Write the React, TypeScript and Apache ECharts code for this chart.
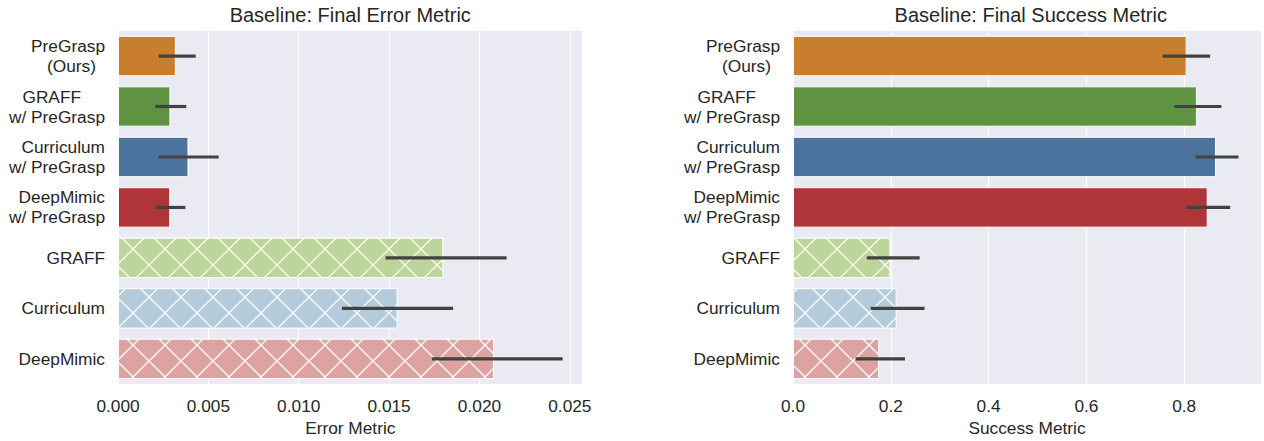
import React, { useEffect, useRef } from "react";
import * as echarts from "echarts";

// ---------- data ----------
const categories = [
  "PreGrasp\n(Ours)",
  "GRAFF\nw/ PreGrasp",
  "Curriculum\nw/ PreGrasp",
  "DeepMimic\nw/ PreGrasp",
  "GRAFF",
  "Curriculum",
  "DeepMimic",
];
const barColors = ["#C97E2E", "#5F9243", "#4C729E", "#AF3539", "#BDD59A", "#B4CBDC", "#DDA3A3"];
const hatched = [false, false, false, false, true, true, true];

const errorMean = [0.0032, 0.0029, 0.0039, 0.00289, 0.018, 0.01547, 0.0208];
const errorLow = [0.00225, 0.00206, 0.00224, 0.00208, 0.01481, 0.01239, 0.01737];
const errorHigh = [0.0043, 0.00378, 0.00557, 0.00373, 0.0215, 0.01854, 0.0246];

const successMean = [0.805, 0.826, 0.865, 0.848, 0.199, 0.212, 0.176];
const successLow = [0.756, 0.78, 0.823, 0.804, 0.151, 0.159, 0.128];
const successHigh = [0.853, 0.876, 0.911, 0.894, 0.259, 0.269, 0.229];

const errorTicks = { min: 0, max: 0.0257, interval: 0.005, digits: 3 };
const successTicks = { min: 0, max: 0.957, interval: 0.2, digits: 1 };

const titles = ["Baseline: Final Error Metric", "Baseline: Final Success Metric"];
const axisNames = ["Error Metric", "Success Metric"];

// ---------- styling ----------
const FONT = "'Liberation Sans', Arial, Helvetica, sans-serif";
const TEXT = "#262626";
const FS = 17.3;
const HATCH = 32;

function labelFormatter(value: string) {
  const lines = String(value).split("\n");
  if (lines.length === 1) return `{t|${lines[0]}}`;
  return lines
    .map((l, i) => {
      if (i === 0 && l === "GRAFF") return `{g|${l}}`;
      if (l === "(Ours)") return `{o|${l}}`;
      return `{t|${l}}`;
    })
    .join("\n");
}

const richBase = { fontFamily: FONT, fontSize: FS, color: TEXT, lineHeight: 20 };
const rich = {
  t: { ...richBase },
  g: { ...richBase, padding: [0, 24, 0, 0] },
  o: { ...richBase, padding: [0, 9, 0, 0] },
};

function tickFormatter(interval: number, digits: number) {
  return (v: number) => {
    const r = v / interval;
    return Math.abs(r - Math.round(r)) < 1e-6 ? v.toFixed(digits) : "";
  };
}

function hatchRender(params: any, api: any) {
  const v = api.value(0);
  const idx = api.value(1);
  if (!hatched[idx]) return { type: "group", children: [] };
  const p0 = api.coord([0, idx]);
  const p1 = api.coord([v, idx]);
  const bandH = api.size([0, 1])[1];
  const h = bandH * 0.8;
  const x0 = p0[0] + 0.5;
  const x1 = p1[0] - 0.5;
  const y0 = p0[1] - h / 2 + 0.5;
  const y1 = p0[1] + h / 2 - 0.5;
  const children: any[] = [];
  const style = { stroke: "rgba(255,255,255,0.95)", lineWidth: 1.3 };
  // family A: x - y = c
  const phaseA = 12;
  let cA = Math.floor((x0 - y1 - phaseA) / HATCH) * HATCH + phaseA;
  for (; cA <= x1 - y0; cA += HATCH) {
    const ya = Math.max(y0, x0 - cA);
    const yb = Math.min(y1, x1 - cA);
    if (yb > ya) children.push({ type: "line", shape: { x1: cA + ya, y1: ya, x2: cA + yb, y2: yb }, style });
  }
  // family B: x + y = c
  const phaseB = 30;
  let cB = Math.floor((x0 + y0 - phaseB) / HATCH) * HATCH + phaseB;
  for (; cB <= x1 + y1; cB += HATCH) {
    const ya = Math.max(y0, cB - x1);
    const yb = Math.min(y1, cB - x0);
    if (yb > ya) children.push({ type: "line", shape: { x1: cB - ya, y1: ya, x2: cB - yb, y2: yb }, style });
  }
  return { type: "group", children };
}

function errRender(params: any, api: any) {
  const lo = api.value(0);
  const hi = api.value(1);
  const idx = api.value(2);
  const a = api.coord([lo, idx]);
  const b = api.coord([hi, idx]);
  return {
    type: "line",
    shape: { x1: a[0], y1: a[1], x2: b[0], y2: b[1] },
    style: { stroke: "#424242", lineWidth: 3.2, lineCap: "butt" },
  };
}

export default function App() {
  const ref = useRef<HTMLDivElement>(null);
  useEffect(() => {
    if (!ref.current) return;
    const chart = echarts.init(ref.current, null, { renderer: "svg" });

    const grids = [
      { left: 118, top: 30.8, width: 464.5, height: 357.7 },
      { left: 793, top: 30.8, width: 475.5, height: 357.7 },
    ];
    const ticks = [errorTicks, successTicks];
    const means = [errorMean, successMean];
    const lows = [errorLow, successLow];
    const highs = [errorHigh, successHigh];

    const xAxis: any[] = [];
    const yAxis: any[] = [];
    const series: any[] = [];
    const title: any[] = [];

    grids.forEach((g, i) => {
      const t = ticks[i];
      title.push({
        text: titles[i],
        left: g.left + g.width / 2,
        top: 5,
        textAlign: "center",
        padding: 0,
        textStyle: { fontFamily: FONT, fontSize: 20, fontWeight: "normal", color: TEXT },
      });
      xAxis.push({
        type: "value",
        gridIndex: i,
        min: t.min,
        max: t.max,
        interval: t.interval,
        name: axisNames[i],
        nameLocation: "middle",
        nameGap: 32,
        nameTextStyle: { fontFamily: FONT, fontSize: FS, color: TEXT },
        axisLine: { show: false },
        axisTick: { show: false },
        axisLabel: {
          fontFamily: FONT,
          fontSize: FS,
          color: TEXT,
          margin: 13,
          formatter: tickFormatter(t.interval, t.digits),
        },
        splitLine: { show: true, lineStyle: { color: "#ffffff", width: 1.2 } },
      });
      yAxis.push({
        type: "category",
        gridIndex: i,
        data: categories,
        inverse: true,
        axisLine: { show: false },
        axisTick: { show: false },
        splitLine: { show: false },
        axisLabel: {
          margin: 13,
          fontFamily: FONT,
          fontSize: FS,
          color: TEXT,
          formatter: labelFormatter,
          rich,
        },
      });
      series.push({
        type: "bar",
        xAxisIndex: i,
        yAxisIndex: i,
        barWidth: "80%",
        z: 2,
        data: means[i].map((v, k) => ({
          value: v,
          itemStyle: { color: barColors[k], borderColor: "#ffffff", borderWidth: 1 },
        })),
        silent: true,
      });
      series.push({
        type: "custom",
        xAxisIndex: i,
        yAxisIndex: i,
        z: 5,
        clip: false,
        renderItem: hatchRender,
        encode: { x: 0, y: 1 },
        data: means[i].map((v, k) => [v, k]),
        silent: true,
      });
      series.push({
        type: "custom",
        xAxisIndex: i,
        yAxisIndex: i,
        z: 6,
        clip: false,
        renderItem: errRender,
        encode: { x: [0, 1], y: 2 },
        data: means[i].map((_, k) => [lows[i][k], highs[i][k], k]),
        silent: true,
      });
    });

    chart.setOption({
      animation: false,
      backgroundColor: "#ffffff",
      title,
      grid: grids.map((g) => ({ ...g, show: true, backgroundColor: "#EAEAF2", borderWidth: 0 })),
      xAxis,
      yAxis,
      series,
    });
    return () => chart.dispose();
  }, []);
  return (
    <div
      ref={ref}
      style={{ position: "fixed", left: 0, top: 0, width: 1264, height: 441, background: "#fff" }}
    />
  );
}
